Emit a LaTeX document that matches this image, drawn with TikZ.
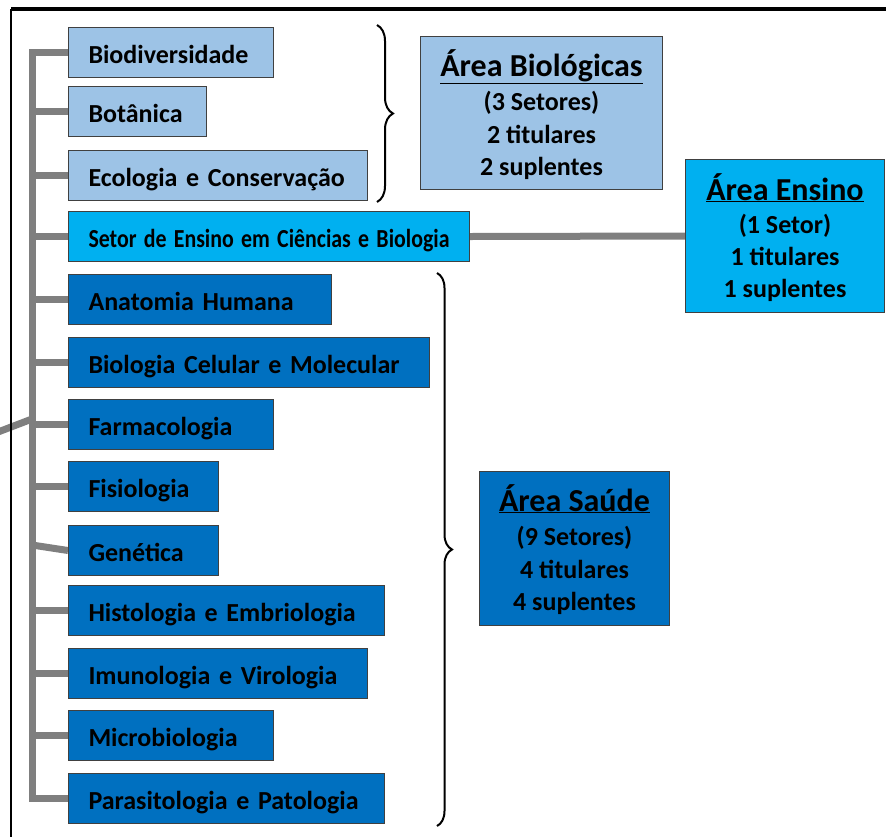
\documentclass[tikz,border=0pt]{standalone}
\usepackage{fontspec}
\setmainfont{Carlito}
\usetikzlibrary{decorations.pathreplacing,backgrounds}
\definecolor{lb}{HTML}{9DC3E6}
\definecolor{cy}{HTML}{00B0F0}
\definecolor{db}{HTML}{0070C0}
\definecolor{gr}{HTML}{7F7F7F}
\begin{document}
\begin{tikzpicture}[x=1pt,y=-1pt,
  sbox/.style 2 args={draw=black!75, line width=1pt, fill=#1, anchor=north west,
    minimum height=50pt, inner xsep=20pt, inner ysep=0pt, text width=#2-40pt,
    text height=22pt, text depth=0pt,
    align=left, font=\fontsize{26}{30}\selectfont\bfseries},
  abox/.style={draw=black!75, line width=1pt, fill=#1, anchor=north west, inner sep=0pt},
  atitle/.style={anchor=base, inner sep=0pt, font=\fontsize{32}{36}\selectfont\bfseries},
  aline/.style={anchor=base, inner sep=0pt, font=\fontsize{26}{30}\selectfont\bfseries},
  conn/.style={draw=gr, line width=7pt, line join=miter},
  cbrace/.style={draw=black, line width=2pt, decorate, decoration={brace, amplitude=#1}},
]
\useasboundingbox (0,0) rectangle (886,836);
% frame
\coordinate (fbl) at (11,840);
\coordinate (ftl) at (11,9);
\coordinate (ftr) at (890,9);
\draw[line width=2pt] (fbl) -- (ftl);
\draw[line width=3.5pt] (ftl) -- (ftr);

% sector boxes
\node[sbox={lb}{205pt}] (bio) at (68,27) {Biodiversidade};
\node[sbox={lb}{138pt}] (bot) at (68,86) {Botânica};
\node[sbox={lb}{299pt}] (eco) at (68,150) {Ecologia e Conservação};
\node[sbox={cy}{401pt}] (set) at (68,211) {\resizebox{361pt}{\height}{Setor de Ensino em Ciências e Biologia}};
\node[sbox={db}{263pt}] (ana) at (68,274) {Anatomia Humana};
\node[sbox={db}{361pt}] (bcm) at (68,337) {Biologia Celular e Molecular};
\node[sbox={db}{205pt}] (far) at (68,399) {Farmacologia};
\node[sbox={db}{150pt}] (fis) at (68,461) {Fisiologia};
\node[sbox={db}{150pt}] (gen) at (68,525) {Genética};
\node[sbox={db}{316pt}] (his) at (68,585) {Histologia e Embriologia};
\node[sbox={db}{299pt}] (imu) at (68,648) {Imunologia e Virologia};
\node[sbox={db}{205pt}] (mic) at (68,710) {Microbiologia};
\node[sbox={db}{316pt}] (par) at (68,773) {Parasitologia e Patologia};

% area boxes
\node[abox=lb, minimum width=242pt, minimum height=153pt] (abio) at (420,36) {};
\node[abox=cy, minimum width=199pt, minimum height=153pt] (aens) at (685,159) {};
\node[abox=db, minimum width=190pt, minimum height=154pt] (asau) at (479,471) {};

\node[atitle, yshift=-40pt] (abio1) at (abio.north) {\underline{Área Biológicas}};
\node[aline, yshift=-74pt] (abio2) at (abio.north) {(3 Setores)};
\node[aline, yshift=-107pt] (abio3) at (abio.north) {2 titulares};
\node[aline, yshift=-139pt] (abio4) at (abio.north) {2 suplentes};

\node[atitle, yshift=-41pt] (aens1) at (aens.north) {\underline{Área Ensino}};
\node[aline, yshift=-74pt] (aens2) at (aens.north) {(1 Setor)};
\node[aline, yshift=-106pt] (aens3) at (aens.north) {1 titulares};
\node[aline, yshift=-138pt] (aens4) at (aens.north) {1 suplentes};

\node[atitle, yshift=-40pt] (asau1) at (asau.north) {\underline{Área Saúde}};
\node[aline, yshift=-74pt] (asau2) at (asau.north) {(9 Setores)};
\node[aline, yshift=-107pt] (asau3) at (asau.north) {4 titulares};
\node[aline, yshift=-139pt] (asau4) at (asau.north) {4 suplentes};

% connectors (behind the boxes)
\coordinate (trunk) at (32,0);
\coordinate (lin) at (-2,432);
\coordinate (tj) at (32,419);
\coordinate (gj) at (32,545);
\begin{scope}[on background layer]
\draw[conn] (bio.west) -- (bio.west -| trunk) -- (par.west -| trunk) -- (par.west);
\foreach \b in {bot,eco,set,ana,bcm,far,fis,his,imu,mic}
  \draw[conn] (\b.west -| trunk) -- (\b.west);
\draw[conn] (gj) -- (gen.west);
\draw[conn] (lin) -- (tj);
\draw[conn] (set.east) -- (aens.west);
\end{scope}

% braces
\coordinate (b1a) at (377,25);
\coordinate (b1b) at (377,202);
\coordinate (b2a) at (437,273);
\coordinate (b2b) at (437,826);
\draw[cbrace=16pt] (b1a) -- (b1b);
\draw[cbrace=15pt] (b2a) -- (b2b);
\end{tikzpicture}
\end{document}
